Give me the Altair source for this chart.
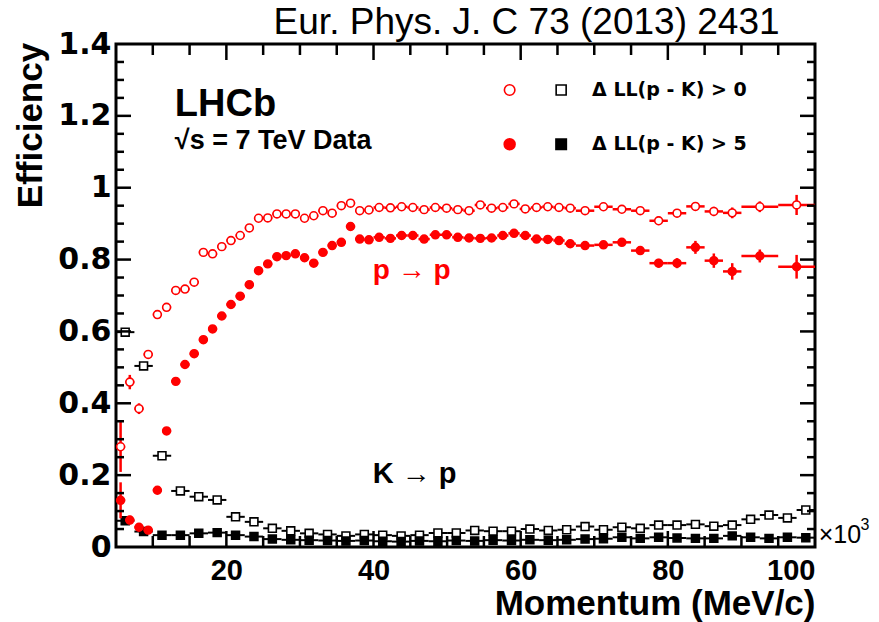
import altair as alt
import pandas as pd

# ---------------------------------------------------------------
# Momentum bins (GeV/c, shown with a x10^3 MeV/c axis)
# ---------------------------------------------------------------
red_edges = [5, 6.25, 7.5, 8.75, 10, 11.25, 12.5, 13.75, 15, 16.25, 17.5, 18.75,
             20, 21.25, 22.5, 23.75, 25, 26.25, 27.5, 28.75, 30, 31.25, 32.5,
             33.75, 35, 36.25, 37.5, 38.75, 40,
             41.53, 43.06, 44.58, 46.11, 47.64, 49.17, 50.69, 52.22, 53.75,
             55.28, 56.81, 58.33, 59.86, 61.39, 62.92, 64.44, 65.97, 67.5,
             70, 72.5, 75, 77.5, 80, 82.5, 85, 87.5, 90, 95, 100]

black_edges = [5, 7.5, 10, 12.5, 15, 17.5, 20, 22.5, 25, 27.5, 30, 32.5, 35,
               37.5, 40, 42.5, 45, 47.5, 50, 52.5, 55, 57.5, 60, 62.5, 65, 67.5,
               70, 72.5, 75, 77.5, 80, 82.5, 85, 87.5, 90, 92.5, 95, 97.5, 100]

# p -> p efficiency, DLL(p-K) > 0
p_loose = [0.279, 0.459, 0.385, 0.536, 0.647, 0.667, 0.714, 0.718, 0.737, 0.820,
           0.816, 0.836, 0.853, 0.867, 0.888, 0.915, 0.916, 0.927, 0.927, 0.927,
           0.915, 0.922, 0.936, 0.929, 0.950, 0.957, 0.936, 0.938,
           0.945, 0.944, 0.947, 0.945, 0.939, 0.945, 0.943, 0.939, 0.936, 0.952,
           0.943, 0.945, 0.955, 0.941, 0.945, 0.947, 0.945, 0.943,
           0.936, 0.947, 0.940, 0.936, 0.908, 0.929, 0.948, 0.934, 0.930,
           0.947, 0.952]
p_loose_err = [0.07, 0.02, 0.015, 0.012, 0.01, 0.008, 0.007, 0.007, 0.006, 0.006,
               0.006, 0.006, 0.006, 0.006, 0.006, 0.006, 0.006, 0.006, 0.006, 0.006,
               0.006, 0.006, 0.006, 0.006, 0.006, 0.006, 0.006, 0.006,
               0.006, 0.006, 0.006, 0.006, 0.006, 0.006, 0.006, 0.006, 0.006, 0.006,
               0.006, 0.006, 0.006, 0.006, 0.006, 0.006, 0.006, 0.006,
               0.008, 0.008, 0.009, 0.009, 0.012, 0.011, 0.012, 0.013, 0.015,
               0.015, 0.028]

# p -> p efficiency, DLL(p-K) > 5
p_tight = [0.13, 0.075, 0.055, 0.047, 0.158, 0.323, 0.461, 0.508, 0.538, 0.577,
           0.607, 0.643, 0.675, 0.698, 0.730, 0.769, 0.788, 0.808, 0.811, 0.816,
           0.805, 0.790, 0.820, 0.839, 0.848, 0.892, 0.857, 0.855,
           0.862, 0.859, 0.867, 0.867, 0.857, 0.869, 0.869, 0.862, 0.860, 0.859,
           0.860, 0.867, 0.873, 0.867, 0.857, 0.856, 0.853, 0.844,
           0.839, 0.841, 0.848, 0.825, 0.790, 0.790, 0.834, 0.797, 0.767,
           0.810, 0.780]
p_tight_err = [0.05, 0.012, 0.01, 0.01, 0.01, 0.01, 0.008, 0.008, 0.007, 0.007,
               0.007, 0.006, 0.006, 0.006, 0.006, 0.006, 0.006, 0.006, 0.006, 0.006,
               0.006, 0.006, 0.006, 0.006, 0.006, 0.006, 0.006, 0.006,
               0.006, 0.006, 0.006, 0.006, 0.006, 0.006, 0.006, 0.006, 0.006, 0.006,
               0.006, 0.006, 0.006, 0.006, 0.006, 0.006, 0.006, 0.006,
               0.008, 0.008, 0.009, 0.01, 0.012, 0.014, 0.018, 0.02, 0.023,
               0.018, 0.033]

# K -> p misidentification, DLL(p-K) > 0
k_loose = [0.598, 0.504, 0.254, 0.156, 0.140, 0.131, 0.084, 0.070, 0.052, 0.045,
           0.038, 0.035, 0.031, 0.035, 0.033, 0.031, 0.033, 0.039, 0.039, 0.046,
           0.044, 0.044, 0.050, 0.046, 0.048, 0.057, 0.048, 0.055, 0.052, 0.061,
           0.061, 0.063, 0.058, 0.061, 0.077, 0.089, 0.081, 0.103]
k_loose_err = [0.01, 0.008, 0.006, 0.005, 0.004, 0.004, 0.004, 0.003, 0.003, 0.003,
               0.003, 0.003, 0.003, 0.003, 0.003, 0.003, 0.003, 0.003, 0.003, 0.003,
               0.003, 0.003, 0.003, 0.003, 0.003, 0.004, 0.004, 0.004, 0.004, 0.004,
               0.005, 0.005, 0.005, 0.005, 0.006, 0.006, 0.007, 0.008]

# K -> p misidentification, DLL(p-K) > 5
k_tight = [0.073, 0.043, 0.033, 0.033, 0.038, 0.040, 0.033, 0.029, 0.022, 0.020,
           0.019, 0.018, 0.017, 0.018, 0.016, 0.015, 0.017, 0.016, 0.018, 0.017,
           0.019, 0.018, 0.020, 0.019, 0.020, 0.022, 0.023, 0.027, 0.024, 0.027,
           0.025, 0.024, 0.024, 0.031, 0.027, 0.024, 0.027, 0.026]
k_tight_err = [0.006, 0.004, 0.003, 0.003, 0.003, 0.003, 0.003, 0.002, 0.002, 0.002,
               0.002, 0.002, 0.002, 0.002, 0.002, 0.002, 0.002, 0.002, 0.002, 0.002,
               0.002, 0.002, 0.002, 0.002, 0.002, 0.003, 0.003, 0.003, 0.003, 0.003,
               0.003, 0.003, 0.003, 0.004, 0.004, 0.004, 0.004, 0.005]

# Axis tick values (inward ROOT-style ticks are drawn as rules)
x_labels = [20, 40, 60, 80, 100]
x_major = [20, 40, 60, 80]
x_minor = [10, 15, 25, 30, 35, 45, 50, 55, 65, 70, 75, 85, 90, 95]
y_labels = [0, 0.2, 0.4, 0.6, 0.8, 1.0, 1.2, 1.4]
y_major = [0.2, 0.4, 0.6, 0.8, 1.0, 1.2]
y_minor = [0.05, 0.1, 0.15, 0.25, 0.3, 0.35, 0.45, 0.5, 0.55, 0.65, 0.7, 0.75,
           0.85, 0.9, 0.95, 1.05, 1.1, 1.15, 1.25, 1.3, 1.35]

RED = "#ff0000"
BLACK = "#000000"
FONT = "Liberation Sans"
WIDE = "DejaVu Sans"
W, H = 699, 503

xscale = alt.Scale(domain=[5, 100], nice=False, zero=False)
yscale = alt.Scale(domain=[0, 1.4], nice=False, zero=True)
xaxis = alt.Axis(values=x_labels, title="Momentum (MeV/c)", ticks=False,
                 domain=False, grid=False, labelFontSize=29, labelFont=FONT,
                 labelFontWeight="bold", labelPadding=9, labelColor="black",
                 titleFont=FONT, titleFontSize=35, titleFontWeight="bold",
                 titleColor="black", titleX=W, titleY=67, titleAlign="right",
                 titleBaseline="alphabetic", titleAnchor="end")
yaxis = alt.Axis(values=y_labels, title="Efficiency", ticks=False, domain=False,
                 grid=False, labelExpr="format(datum.value, '~g')",
                 labelFontSize=30, labelFont=WIDE, labelFontWeight="bold",
                 labelPadding=5, labelColor="black", titleFont=FONT,
                 titleFontSize=35, titleFontWeight="bold", titleColor="black",
                 titleAngle=270, titleX=-86, titleY=81, titleAlign="center",
                 titleBaseline="middle")


def X(field):
    return alt.X(field, type="quantitative", scale=xscale, axis=xaxis)


def Y(field):
    return alt.Y(field, type="quantitative", scale=yscale, axis=yaxis)


def binned(edges, vals, errs):
    lo = edges[:-1]
    hi = edges[1:]
    return pd.DataFrame({
        "lo": lo, "hi": hi,
        "x": [(a + b) / 2 for a, b in zip(lo, hi)],
        "y": vals,
        "ylo": [v - e for v, e in zip(vals, errs)],
        "yhi": [v + e for v, e in zip(vals, errs)],
    })


def series(df, color, shape, filled, bar_width):
    hbar = alt.Chart(df).mark_rule(color=color, strokeWidth=bar_width).encode(
        x=X("lo"), x2="hi", y=Y("y"))
    vbar = alt.Chart(df).mark_rule(color=color, strokeWidth=bar_width).encode(
        x=X("x"), y=Y("ylo"), y2="yhi")
    pts = alt.Chart(df).mark_point(
        shape=shape, size=62, filled=True, opacity=1,
        fill=color if filled else "white", stroke=color,
        strokeWidth=1.6).encode(x=X("x"), y=Y("y"))
    return [hbar, vbar, pts]


k_l = binned(black_edges, k_loose, k_loose_err)
k_t = binned(black_edges, k_tight, k_tight_err)
p_l = binned(red_edges, p_loose, p_loose_err)
p_t = binned(red_edges, p_tight, p_tight_err)

layers = []
layers += series(k_l, BLACK, "square", False, 2)
layers += series(k_t, BLACK, "square", True, 2)
layers += series(p_l, RED, "circle", False, 2.5)
layers += series(p_t, RED, "circle", True, 2.5)


# inward ticks on all four sides of the frame
def hticks(vals, length):
    df = pd.DataFrame({"v": vals})
    bottom = alt.Chart(df).mark_rule(color="black", strokeWidth=2.5).encode(
        x=X("v"), y=alt.value(H), y2=alt.value(H - length))
    top = alt.Chart(df).mark_rule(color="black", strokeWidth=2.5).encode(
        x=X("v"), y=alt.value(0), y2=alt.value(length))
    return [bottom, top]


def vticks(vals, length):
    df = pd.DataFrame({"v": vals})
    left = alt.Chart(df).mark_rule(color="black", strokeWidth=2.5).encode(
        y=Y("v"), x=alt.value(0), x2=alt.value(length))
    right = alt.Chart(df).mark_rule(color="black", strokeWidth=2.5).encode(
        y=Y("v"), x=alt.value(W), x2=alt.value(W - length))
    return [left, right]


layers += hticks(x_major, 16) + hticks(x_minor, 11)
layers += vticks(y_major, 15) + vticks(y_minor, 8)


# text labels placed in data coordinates
def label(x, y, text, size, color="black", weight="bold", align="left",
          font=FONT):
    df = pd.DataFrame({"x": [x], "y": [y], "t": [text]})
    return alt.Chart(df).mark_text(
        align=align, baseline="alphabetic", font=font, fontSize=size,
        fontWeight=weight, color=color).encode(x=X("x"), y=Y("y"), text="t")


layers += [
    label(60.8, 1.428, "Eur. Phys. J. C 73 (2013) 2431", 37, weight="normal",
          align="center"),
    label(13.0, 1.2, "LHCb", 38),
    label(13.0, 1.108, "√s = 7 TeV Data", 27),
    label(39.9, 0.745, "p → p", 28, color=RED),
    label(39.9, 0.178, "K → p", 29),
    label(69.7, 1.255, "Δ LL(p - K) > 0", 19, font=WIDE),
    label(69.7, 1.104, "Δ LL(p - K) > 5", 19, font=WIDE),
    label(100.5, 0.012, "×10", 25, weight="normal"),
    label(106.2, 0.047, "3", 16, weight="normal"),
]

# legend symbols
leg_open_c = pd.DataFrame({"x": [58.5], "y": [1.272]})
leg_fill_c = pd.DataFrame({"x": [58.5], "y": [1.121]})
leg_open_s = pd.DataFrame({"x": [65.5], "y": [1.272]})
leg_fill_s = pd.DataFrame({"x": [65.5], "y": [1.121]})
layers += [
    alt.Chart(leg_open_c).mark_point(shape="circle", size=110, filled=True,
                                     fill="white", stroke=RED, strokeWidth=1.6,
                                     opacity=1).encode(x=X("x"), y=Y("y")),
    alt.Chart(leg_fill_c).mark_point(shape="circle", size=110, filled=True,
                                     fill=RED, stroke=RED, opacity=1
                                     ).encode(x=X("x"), y=Y("y")),
    alt.Chart(leg_open_s).mark_point(shape="square", size=100, filled=True,
                                     fill="white", stroke=BLACK, strokeWidth=1.6,
                                     opacity=1).encode(x=X("x"), y=Y("y")),
    alt.Chart(leg_fill_s).mark_point(shape="square", size=100, filled=True,
                                     fill=BLACK, stroke=BLACK, opacity=1
                                     ).encode(x=X("x"), y=Y("y")),
]

chart = alt.layer(*layers).properties(
    width=W, height=H,
    autosize=alt.AutoSizeParams(type="none"),
    padding={"left": 116, "top": 44, "right": 64, "bottom": 75},
    background="white",
).configure_view(stroke="black", strokeWidth=3)

chart.save("out.html", embed_options={"renderer": "svg", "actions": False})
